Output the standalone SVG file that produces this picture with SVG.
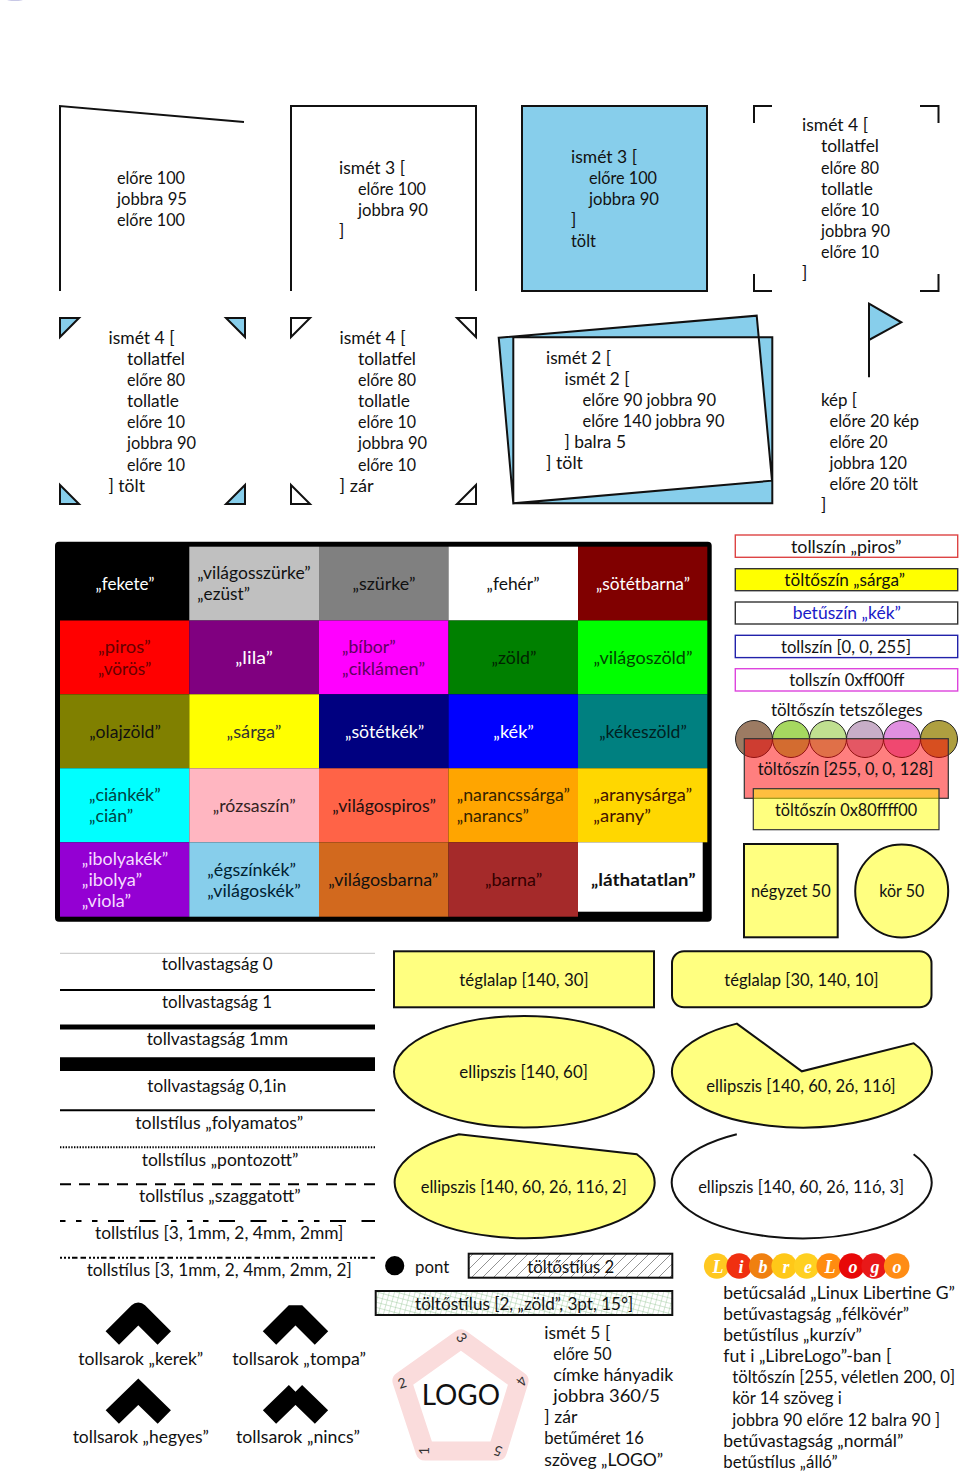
<svg xmlns="http://www.w3.org/2000/svg" width="960" height="1471" viewBox="0 0 960 1471">
<style>
text{font-family:"Lato","Noto Sans",sans-serif;font-size:17.4px;fill:#111}
text:not(.lb){transform:translateY(.7px)}
.m{text-anchor:middle}
.w{fill:#fff}
.s{fill:none;stroke:#111;stroke-width:2;stroke-linejoin:miter}
.b{fill:#87ceeb;stroke:#111;stroke-width:2;stroke-linejoin:miter}
.y{fill:#ffff80;stroke:#111;stroke-width:2;stroke-linejoin:miter}
.l{fill:none;stroke:#000}
.k{fill:none;stroke:#000;stroke-width:19}
.cb{fill:#fff;stroke-width:1.4}
.cc{stroke:#222;stroke-width:1}
.ll{font-family:"Liberation Serif",serif;font-weight:bold;font-style:italic;fill:#fff;text-anchor:middle;font-size:18px}
.lb{font-size:14px;fill:#333;text-anchor:middle}
</style>
<defs>
<pattern id="hatch" width="11" height="11" patternUnits="userSpaceOnUse"><path d="M-1 12L12 -1M-1 1L1 -1M10 12L12 10" stroke="#777" stroke-width=".8" fill="none"/></pattern>
<pattern id="grid" width="5" height="5" patternUnits="userSpaceOnUse" patternTransform="rotate(15)"><path d="M0 0H5M0 0V5" stroke="#8fc08f" stroke-width=".8" fill="none"/></pattern>
</defs>
<rect width="960" height="1471" fill="#fff"/>
<ellipse cx="15" cy="-1" rx="9" ry="2" fill="#c8c8e6"/>

<g id="connectors">
<path class="l" stroke-width="1" d="M60 953.3H375" style="stroke:#c4c4c4"/>
<path class="l" stroke-width="2" d="M60 990H375"/>
<path class="l" stroke-width="5.2" d="M60 1027H375"/>
<path class="l" stroke-width="13.7" d="M60 1064.2H375"/>
<path class="l" stroke-width="2" d="M60 1110.3H375"/>
<path class="l" stroke-width="2" stroke-dasharray="1.4 1.4" d="M60 1147.3H375"/>
<path class="l" stroke-width="2" stroke-dasharray="11 8" d="M60 1184.3H375"/>
<path class="l" stroke-width="2" stroke-dasharray="5.500 10.500 5.500 10.500 5.500 10.500 16 15.500 16 15.500" d="M60 1221H375"/>
<path class="l" stroke-width="2" stroke-dasharray="2 2 2 2 2 2 5.500 3 5.500 3" d="M60 1257.700H375"/>
</g>

<g id="n-elore"><path class="s" d="M60 291V106L244 122"/>
<text x="117" y="183" textLength="68" lengthAdjust="spacingAndGlyphs">előre 100</text><text x="117" y="204" textLength="70" lengthAdjust="spacingAndGlyphs">jobbra 95</text><text x="117" y="225" textLength="68" lengthAdjust="spacingAndGlyphs">előre 100</text></g>
<g id="n-ismet3"><path class="s" d="M291 291V106H476V291"/>
<text x="339" y="173" textLength="66" lengthAdjust="spacingAndGlyphs">ismét 3 [</text><text x="358" y="194" textLength="68" lengthAdjust="spacingAndGlyphs">előre 100</text><text x="358" y="215" textLength="70" lengthAdjust="spacingAndGlyphs">jobbra 90</text><text x="339" y="236">]</text></g>
<g id="n-tolt"><rect class="b" x="522" y="106" width="185" height="185"/>
<text x="571" y="162.7" textLength="66" lengthAdjust="spacingAndGlyphs">ismét 3 [</text><text x="589" y="183.7" textLength="68" lengthAdjust="spacingAndGlyphs">előre 100</text><text x="589" y="204.7" textLength="70" lengthAdjust="spacingAndGlyphs">jobbra 90</text><text x="571" y="225.7">]</text><text x="571" y="246.7" textLength="25" lengthAdjust="spacingAndGlyphs">tölt</text></g>
<g id="n-corners"><path class="s" d="M772 106H754V123M920 106H938.500V123M754 274V291H772M938.500 274V291H920"/>
<text x="802" y="130.700" textLength="66" lengthAdjust="spacingAndGlyphs">ismét 4 [</text><text x="821" y="151.800" textLength="58" lengthAdjust="spacingAndGlyphs">tollatfel</text><text x="821" y="172.900" textLength="58" lengthAdjust="spacingAndGlyphs">előre 80</text><text x="821" y="194" textLength="52" lengthAdjust="spacingAndGlyphs">tollatle</text><text x="821" y="215.100" textLength="58" lengthAdjust="spacingAndGlyphs">előre 10</text><text x="821" y="236.200" textLength="69" lengthAdjust="spacingAndGlyphs">jobbra 90</text><text x="821" y="257.300" textLength="58" lengthAdjust="spacingAndGlyphs">előre 10</text><text x="802" y="278.400">]</text></g>

<g id="n-tri-fill"><path class="b" d="M60 318H79L60 337ZM226 318H245V337ZM60 485L79 504H60ZM245 485V504H226Z"/>
<text x="108.500" y="343.300" textLength="66" lengthAdjust="spacingAndGlyphs">ismét 4 [</text><text x="127" y="364.400" textLength="58" lengthAdjust="spacingAndGlyphs">tollatfel</text><text x="127" y="385.500" textLength="58" lengthAdjust="spacingAndGlyphs">előre 80</text><text x="127" y="406.600" textLength="52" lengthAdjust="spacingAndGlyphs">tollatle</text><text x="127" y="427.700" textLength="58" lengthAdjust="spacingAndGlyphs">előre 10</text><text x="127" y="448.800" textLength="69" lengthAdjust="spacingAndGlyphs">jobbra 90</text><text x="127" y="469.900" textLength="58" lengthAdjust="spacingAndGlyphs">előre 10</text><text x="108.500" y="491" textLength="36.500" lengthAdjust="spacingAndGlyphs">] tölt</text></g>
<g id="n-tri-close"><path class="s" d="M291 318H310L291 337ZM457 318H476V337ZM291 485L310 504H291ZM476 485V504H457Z"/>
<text x="339.500" y="343.300" textLength="66" lengthAdjust="spacingAndGlyphs">ismét 4 [</text><text x="358" y="364.400" textLength="58" lengthAdjust="spacingAndGlyphs">tollatfel</text><text x="358" y="385.500" textLength="58" lengthAdjust="spacingAndGlyphs">előre 80</text><text x="358" y="406.600" textLength="52" lengthAdjust="spacingAndGlyphs">tollatle</text><text x="358" y="427.700" textLength="58" lengthAdjust="spacingAndGlyphs">előre 10</text><text x="358" y="448.800" textLength="69" lengthAdjust="spacingAndGlyphs">jobbra 90</text><text x="358" y="469.900" textLength="58" lengthAdjust="spacingAndGlyphs">előre 10</text><text x="339.500" y="491" textLength="34" lengthAdjust="spacingAndGlyphs">] zár</text></g>
<g id="n-tilted"><path d="M513.300 337.300H772.300V503.300H513.300ZM498.700 337.700L756.700 315.700L772 480.700L513.300 503.300Z" fill="#87ceeb" fill-rule="evenodd" stroke="#111" stroke-width="2"/>
<text x="546" y="363.300" textLength="65" lengthAdjust="spacingAndGlyphs">ismét 2 [</text><text x="564.500" y="384.400" textLength="65" lengthAdjust="spacingAndGlyphs">ismét 2 [</text><text x="582.500" y="405.500" textLength="133.500" lengthAdjust="spacingAndGlyphs">előre 90 jobbra 90</text><text x="582.500" y="426.600" textLength="142" lengthAdjust="spacingAndGlyphs">előre 140 jobbra 90</text><text x="564.500" y="447.700" textLength="61.500" lengthAdjust="spacingAndGlyphs">] balra 5</text><text x="546" y="468.800" textLength="37" lengthAdjust="spacingAndGlyphs">] tölt</text></g>
<g id="n-flag"><path class="s" d="M869 377.300V340"/><path class="b" d="M869 303.700L901.300 322.300L869 340Z"/>
<text x="821" y="405" textLength="36" lengthAdjust="spacingAndGlyphs">kép [</text><text x="829.500" y="426.100" textLength="89.500" lengthAdjust="spacingAndGlyphs">előre 20 kép</text><text x="829.500" y="447.200" textLength="58" lengthAdjust="spacingAndGlyphs">előre 20</text><text x="829.500" y="468.300" textLength="77.500" lengthAdjust="spacingAndGlyphs">jobbra 120</text><text x="829.500" y="489.400" textLength="88.500" lengthAdjust="spacingAndGlyphs">előre 20 tölt</text><text x="821" y="510.500">]</text></g>

<g id="n-colortable">
<rect x="55" y="541.700" width="656.700" height="380" rx="4" fill="#000"/>
<rect x="60" y="546.700" width="129.300" height="73.800" fill="#000"/>
<rect x="189.300" y="546.700" width="129.700" height="73.800" fill="#c0c0c0"/>
<rect x="319" y="546.700" width="129.500" height="73.800" fill="#808080"/>
<rect x="448.500" y="546.700" width="129.500" height="73.800" fill="#fff"/>
<rect x="578" y="546.700" width="129.300" height="73.800" fill="#800000"/>
<rect x="60" y="620.500" width="129.300" height="73.800" fill="#f00"/>
<rect x="189.300" y="620.500" width="129.700" height="73.800" fill="#800080"/>
<rect x="319" y="620.500" width="129.500" height="73.800" fill="#f0f"/>
<rect x="448.500" y="620.500" width="129.500" height="73.800" fill="#008000"/>
<rect x="578" y="620.500" width="129.300" height="73.800" fill="#0f0"/>
<rect x="60" y="694.300" width="129.300" height="74" fill="#808000"/>
<rect x="189.300" y="694.300" width="129.700" height="74" fill="#ff0"/>
<rect x="319" y="694.300" width="129.500" height="74" fill="#000080"/>
<rect x="448.500" y="694.300" width="129.500" height="74" fill="#00f"/>
<rect x="578" y="694.300" width="129.300" height="74" fill="#008080"/>
<rect x="60" y="768.300" width="129.300" height="74" fill="#0ff"/>
<rect x="189.300" y="768.300" width="129.700" height="74" fill="#ffb6c1"/>
<rect x="319" y="768.300" width="129.500" height="74" fill="#ff6347"/>
<rect x="448.500" y="768.300" width="129.500" height="74" fill="#ffa500"/>
<rect x="578" y="768.300" width="129.300" height="74" fill="#ffd700"/>
<rect x="60" y="842.300" width="129.300" height="74.400" fill="#9400d3"/>
<rect x="189.300" y="842.300" width="129.700" height="74.400" fill="#87ceeb"/>
<rect x="319" y="842.300" width="129.500" height="74.400" fill="#d2691e"/>
<rect x="448.500" y="842.300" width="129.500" height="74.400" fill="#a52a2a"/>
<rect x="578" y="842.300" width="124.700" height="69.400" fill="#fff"/>
<text class="m w" x="125" y="589" textLength="59" lengthAdjust="spacingAndGlyphs">„fekete”</text>
<text x="197.300" y="578.300" textLength="113.400" lengthAdjust="spacingAndGlyphs">„világosszürke”</text><text x="197.300" y="599.700" textLength="52.700" lengthAdjust="spacingAndGlyphs">„ezüst”</text>
<text class="m" x="384" y="589" textLength="63" lengthAdjust="spacingAndGlyphs">„szürke”</text>
<text class="m" x="513" y="589" textLength="53" lengthAdjust="spacingAndGlyphs">„fehér”</text>
<text class="m w" x="643" y="589" textLength="94" lengthAdjust="spacingAndGlyphs">„sötétbarna”</text>
<text x="98" y="652.700" style="fill:#600" textLength="52.700" lengthAdjust="spacingAndGlyphs">„piros”</text><text x="98" y="674.300" style="fill:#600" textLength="53.300" lengthAdjust="spacingAndGlyphs">„vörös”</text>
<text class="m w" x="254" y="663" textLength="37.700" lengthAdjust="spacingAndGlyphs">„lila”</text>
<text x="342" y="652.700" style="fill:#600060" textLength="53.700" lengthAdjust="spacingAndGlyphs">„bíbor”</text><text x="342" y="674.300" style="fill:#600060" textLength="83" lengthAdjust="spacingAndGlyphs">„ciklámen”</text>
<text class="m" x="514" y="663" style="fill:#002400" textLength="45" lengthAdjust="spacingAndGlyphs">„zöld”</text>
<text class="m" x="643" y="663" style="fill:#004400" textLength="99" lengthAdjust="spacingAndGlyphs">„világoszöld”</text>
<text class="m" x="125" y="737" textLength="71.700" lengthAdjust="spacingAndGlyphs">„olajzöld”</text>
<text class="m" x="254" y="737" style="fill:#333" textLength="55" lengthAdjust="spacingAndGlyphs">„sárga”</text>
<text class="m w" x="384.600" y="737" textLength="79.300" lengthAdjust="spacingAndGlyphs">„sötétkék”</text>
<text class="m w" x="513.600" y="737" textLength="40.700" lengthAdjust="spacingAndGlyphs">„kék”</text>
<text class="m" x="643" y="737" style="fill:#002222" textLength="87.700" lengthAdjust="spacingAndGlyphs">„kékeszöld”</text>
<text x="89" y="800" style="fill:#044" textLength="71.700" lengthAdjust="spacingAndGlyphs">„ciánkék”</text><text x="89" y="821.700" style="fill:#044" textLength="44.300" lengthAdjust="spacingAndGlyphs">„cián”</text>
<text class="m" x="254.200" y="811" style="fill:#322" textLength="83" lengthAdjust="spacingAndGlyphs">„rózsaszín”</text>
<text class="m" x="384.200" y="811" style="fill:#211" textLength="103.700" lengthAdjust="spacingAndGlyphs">„világospiros”</text>
<text x="456.700" y="800" style="fill:#320" textLength="113.300" lengthAdjust="spacingAndGlyphs">„narancssárga”</text><text x="456.700" y="821.700" style="fill:#320" textLength="72.300" lengthAdjust="spacingAndGlyphs">„narancs”</text>
<text x="593.300" y="800" style="fill:#410" textLength="99" lengthAdjust="spacingAndGlyphs">„aranysárga”</text><text x="593.300" y="821.700" style="fill:#410" textLength="57.700" lengthAdjust="spacingAndGlyphs">„arany”</text>
<text x="81.700" y="864.300" style="fill:#f4dcff" textLength="86.600" lengthAdjust="spacingAndGlyphs">„ibolyakék”</text><text x="81.700" y="885.500" style="fill:#f4dcff" textLength="60.600" lengthAdjust="spacingAndGlyphs">„ibolya”</text><text x="81.700" y="906.700" style="fill:#f4dcff" textLength="49.300" lengthAdjust="spacingAndGlyphs">„viola”</text>
<text x="207.300" y="875" style="fill:#023" textLength="88.700" lengthAdjust="spacingAndGlyphs">„égszínkék”</text><text x="207.300" y="896.700" style="fill:#023" textLength="93.400" lengthAdjust="spacingAndGlyphs">„világoskék”</text>
<text class="m" x="383.300" y="885" textLength="110" lengthAdjust="spacingAndGlyphs">„világosbarna”</text>
<text class="m" x="513.600" y="885" style="fill:#300" textLength="57.300" lengthAdjust="spacingAndGlyphs">„barna”</text>
<text class="m" x="643.300" y="885" style="font-weight:bold" textLength="104.700" lengthAdjust="spacingAndGlyphs">„láthatatlan”</text>
</g>

<g id="n-penred"><rect class="cb" x="735.300" y="535" width="222.400" height="22.300" stroke="#d44"/><text class="m" x="846.300" y="552" textLength="110.700" lengthAdjust="spacingAndGlyphs">tollszín „piros”</text></g>
<g id="n-fillyellow"><rect x="735.300" y="568.700" width="222.400" height="22" fill="#ff0" stroke="#333" stroke-width="1.400"/><text class="m" x="844.700" y="585" textLength="120.700" lengthAdjust="spacingAndGlyphs">töltőszín „sárga”</text></g>
<g id="n-textblue"><rect class="cb" x="735.300" y="602" width="222.400" height="22" stroke="#333"/><text class="m" x="846.800" y="618.700" style="fill:#1a1ac8" textLength="108.300" lengthAdjust="spacingAndGlyphs">betűszín „kék”</text></g>
<g id="n-penrgb"><rect class="cb" x="735.300" y="635.300" width="222.400" height="22.300" stroke="#22a"/><text class="m" x="846" y="652" textLength="130" lengthAdjust="spacingAndGlyphs">tollszín [0, 0, 255]</text></g>
<g id="n-penhex"><rect class="cb" x="735.300" y="668.700" width="222.400" height="22.300" stroke="#d4d"/><text class="m" x="846.800" y="685" textLength="115" lengthAdjust="spacingAndGlyphs">tollszín 0xff00ff</text></g>
<g id="n-anyfill"><text class="m" x="846.800" y="715" textLength="151.700" lengthAdjust="spacingAndGlyphs">töltőszín tetszőleges</text>
<circle class="cc" cx="754" cy="739" r="18.500" fill="#9c7b63"/><circle class="cc" cx="791" cy="739" r="18.500" fill="#a6d860"/><circle class="cc" cx="828" cy="739" r="18.500" fill="#c0e090"/><circle class="cc" cx="865" cy="739" r="18.500" fill="#c8aec8"/><circle class="cc" cx="902" cy="739" r="18.500" fill="#e090e0"/><circle class="cc" cx="939" cy="739" r="18.500" fill="#ae9f40"/></g>
<g id="n-redalpha"><rect x="744.300" y="738.700" width="204" height="59.600" fill="#ff0000" fill-opacity=".5" stroke="#333" stroke-width="1.200"/><text class="m" x="845.500" y="774.300" textLength="175.600" lengthAdjust="spacingAndGlyphs">töltőszín [255, 0, 0, 128]</text></g>
<g id="n-yellowalpha"><rect x="753.300" y="788.700" width="185.700" height="41" fill="#ffff00" fill-opacity=".5" stroke="#333" stroke-width="1.200"/><text class="m" x="846.100" y="815.700" textLength="142.300" lengthAdjust="spacingAndGlyphs">töltőszín 0x80ffff00</text></g>
<g id="n-square"><rect class="y" x="744" y="844" width="93.700" height="93.300"/><text class="m" x="790.800" y="896.700" textLength="79.700" lengthAdjust="spacingAndGlyphs">négyzet 50</text></g>
<g id="n-circle"><circle class="y" cx="901.700" cy="891" r="46.500"/><text class="m" x="901.800" y="896.700" textLength="45" lengthAdjust="spacingAndGlyphs">kör 50</text></g>

<g id="n-linelabels">
<text class="m" x="217.200" y="969.700" textLength="111" lengthAdjust="spacingAndGlyphs">tollvastagság 0</text>
<text class="m" x="217" y="1007" textLength="110" lengthAdjust="spacingAndGlyphs">tollvastagság 1</text>
<text class="m" x="217.300" y="1044" textLength="141.300" lengthAdjust="spacingAndGlyphs">tollvastagság 1mm</text>
<text class="m" x="216.800" y="1091.700" textLength="139" lengthAdjust="spacingAndGlyphs">tollvastagság 0,1in</text>
<text class="m" x="219.300" y="1128" textLength="168" lengthAdjust="spacingAndGlyphs">tollstílus „folyamatos”</text>
<text class="m" x="220" y="1165" textLength="156.600" lengthAdjust="spacingAndGlyphs">tollstílus „pontozott”</text>
<text class="m" x="219.800" y="1201.700" textLength="161.700" lengthAdjust="spacingAndGlyphs">tollstílus „szaggatott”</text>
<text class="m" x="219.200" y="1238.300" textLength="248.300" lengthAdjust="spacingAndGlyphs">tollstílus [3, 1mm, 2, 4mm, 2mm]</text>
<text class="m" x="219.200" y="1275" textLength="265" lengthAdjust="spacingAndGlyphs">tollstílus [3, 1mm, 2, 4mm, 2mm, 2]</text>
</g>

<g id="n-rect1"><rect class="y" x="394" y="951.300" width="260" height="56"/><text class="m" x="524" y="985" textLength="129.300" lengthAdjust="spacingAndGlyphs">téglalap [140, 30]</text></g>
<g id="n-rect2"><rect class="y" x="672" y="951.300" width="259.500" height="56" rx="12"/><text class="m" x="801.500" y="985" textLength="154.300" lengthAdjust="spacingAndGlyphs">téglalap [30, 140, 10]</text></g>
<g id="n-ell1"><ellipse class="y" cx="524" cy="1071.700" rx="130" ry="55.700"/><text class="m" x="523.600" y="1077.700" textLength="128.600" lengthAdjust="spacingAndGlyphs">ellipszis [140, 60]</text></g>
<g id="n-ell2"><path class="y" d="M736.800 1023.600A130 55.700 0 1 0 913.600 1043.300L801.800 1071.300Z"/><text class="m" x="801" y="1091.700" textLength="189.300" lengthAdjust="spacingAndGlyphs">ellipszis [140, 60, 2ó, 11ó]</text></g>
<g id="n-ell3"><path class="y" d="M459 1134.300A130 55.700 0 1 0 636.800 1154.200Z"/><text class="m" x="523.700" y="1192.300" textLength="206" lengthAdjust="spacingAndGlyphs">ellipszis [140, 60, 2ó, 11ó, 2]</text></g>
<g id="n-ell4"><path class="s" d="M736.800 1134.300A130 55.700 0 1 0 913.600 1154.200"/><text class="m" x="801.100" y="1192.300" textLength="205.800" lengthAdjust="spacingAndGlyphs">ellipszis [140, 60, 2ó, 11ó, 3]</text></g>

<g id="n-point"><circle cx="394.700" cy="1265.700" r="9.600" fill="#000"/><text x="415" y="1272" textLength="34.300" lengthAdjust="spacingAndGlyphs">pont</text></g>
<g id="n-fill2"><rect x="468.700" y="1253.700" width="203.600" height="24" fill="url(#hatch)" stroke="#111" stroke-width="2"/><text class="m" x="570.800" y="1272" textLength="87" lengthAdjust="spacingAndGlyphs">töltőstílus 2</text></g>
<g id="n-fill3"><rect x="375.700" y="1291" width="296.600" height="24" fill="url(#grid)" stroke="#111" stroke-width="2"/><text class="m" x="524.200" y="1309" textLength="218.300" lengthAdjust="spacingAndGlyphs">töltőstílus [2, „zöld”, 3pt, 15°]</text></g>

<g id="n-logo"><path d="M461 1339L519 1381L497.500 1451H425L402 1381Z" fill="none" stroke="#fadcdc" stroke-width="19" stroke-linejoin="round"/>
<text class="lb" transform="translate(424 1451) rotate(-90)" y="5">1</text>
<text class="lb" transform="translate(402 1383) rotate(-18)" y="5">2</text>
<text class="lb" transform="translate(461.700 1337.700) rotate(54)" y="5">3</text>
<text class="lb" transform="translate(521.700 1381) rotate(126)" y="5">4</text>
<text class="lb" transform="translate(498 1451) rotate(198)" y="5">5</text>
<text x="421.700" y="1404" style="font-size:29.500px" textLength="78.300" lengthAdjust="spacingAndGlyphs">LOGO</text></g>
<g id="n-logocode"><text x="544.300" y="1338.300" textLength="66" lengthAdjust="spacingAndGlyphs">ismét 5 [</text><text x="553.300" y="1359.400" textLength="58.400" lengthAdjust="spacingAndGlyphs">előre 50</text><text x="553.300" y="1380.500" textLength="120" lengthAdjust="spacingAndGlyphs">címke hányadik</text><text x="553.300" y="1401.600" textLength="106.700" lengthAdjust="spacingAndGlyphs">jobbra 360/5</text><text x="544.300" y="1422.700" textLength="33" lengthAdjust="spacingAndGlyphs">] zár</text><text x="544.300" y="1443.800" textLength="99.700" lengthAdjust="spacingAndGlyphs">betűméret 16</text><text x="544.300" y="1465" textLength="119" lengthAdjust="spacingAndGlyphs">szöveg „LOGO”</text></g>

<g id="n-join-round"><path class="k" stroke-linejoin="round" d="M112.300 1338L138.300 1312L164.300 1338"/><text class="m" x="140.800" y="1364" textLength="125" lengthAdjust="spacingAndGlyphs">tollsarok „kerek”</text></g>
<g id="n-join-bevel"><path class="k" stroke-linejoin="bevel" d="M269.500 1338L295.500 1312L321.500 1338"/><text class="m" x="299.100" y="1364" textLength="133.700" lengthAdjust="spacingAndGlyphs">tollsarok „tompa”</text></g>
<g id="n-join-miter"><path class="k" stroke-linejoin="miter" d="M112.300 1417L138.300 1391.700L164.300 1417"/><text class="m" x="140.800" y="1442.300" textLength="136.300" lengthAdjust="spacingAndGlyphs">tollsarok „hegyes”</text></g>
<g id="n-join-none"><path class="k" d="M269.500 1417L295.500 1391.700M295.500 1391.700L321.500 1417"/><text class="m" x="298" y="1442.300" textLength="124" lengthAdjust="spacingAndGlyphs">tollsarok „nincs”</text></g>

<g id="n-librelogo">
<circle cx="716.700" cy="1266" r="12.800" fill="#ffc820"/><text class="ll" x="718" y="1272">L</text>
<circle cx="739.200" cy="1266" r="12.800" fill="#f03010"/><text class="ll" x="741" y="1272">i</text>
<circle cx="761.700" cy="1266" r="12.800" fill="#f08010"/><text class="ll" x="763" y="1272">b</text>
<circle cx="784.200" cy="1266" r="12.800" fill="#ffc818"/><text class="ll" x="786" y="1272">r</text>
<circle cx="806.700" cy="1266" r="12.800" fill="#ffd020"/><text class="ll" x="808" y="1272">e</text>
<circle cx="829.200" cy="1266" r="12.800" fill="#ff8c10"/><text class="ll" x="830" y="1272">L</text>
<circle cx="851.700" cy="1266" r="12.800" fill="#e80808"/><text class="ll" x="853" y="1272">o</text>
<circle cx="874.200" cy="1266" r="12.800" fill="#e81818"/><text class="ll" x="875" y="1272">g</text>
<circle cx="896.700" cy="1266" r="12.800" fill="#ff8c14"/><text class="ll" x="897" y="1272">o</text>
</g>
<g id="n-librecode"><text x="723.300" y="1298.300" textLength="231.700" lengthAdjust="spacingAndGlyphs">betűcsalád „Linux Libertine G”</text><text x="723.300" y="1319.400" textLength="185.700" lengthAdjust="spacingAndGlyphs">betűvastagság „félkövér”</text><text x="723.300" y="1340.500" textLength="138.700" lengthAdjust="spacingAndGlyphs">betűstílus „kurzív”</text><text x="723.300" y="1361.600" textLength="168" lengthAdjust="spacingAndGlyphs">fut i „LibreLogo”-ban [</text><text x="732.300" y="1382.700" style="font-size:16.300px" textLength="222.700" lengthAdjust="spacingAndGlyphs">töltőszín [255, véletlen 200, 0]</text><text x="732.300" y="1403.800" textLength="109.500" lengthAdjust="spacingAndGlyphs">kör 14 szöveg i</text><text x="732.300" y="1424.900" textLength="207.700" lengthAdjust="spacingAndGlyphs">jobbra 90 előre 12 balra 90 ]</text><text x="723.300" y="1446" textLength="180" lengthAdjust="spacingAndGlyphs">betűvastagság „normál”</text><text x="723.300" y="1467" textLength="114.400" lengthAdjust="spacingAndGlyphs">betűstílus „álló”</text></g>
</svg>
